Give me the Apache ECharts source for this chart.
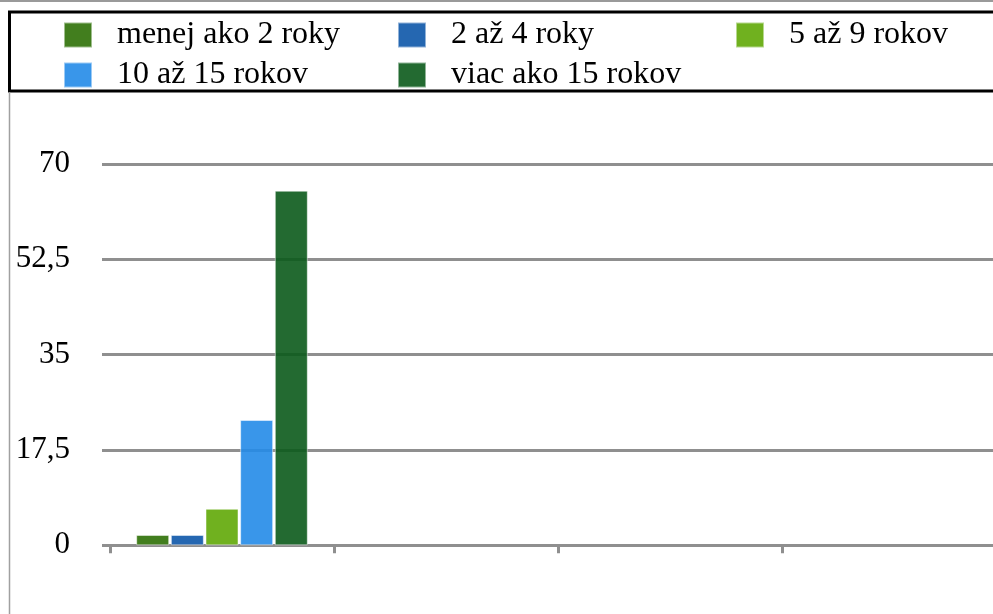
<!DOCTYPE html>
<html>
<head>
<meta charset="utf-8">
<script src="https://cdn.jsdelivr.net/npm/echarts@6/dist/echarts.min.js"></script>
<style>
html,body{margin:0;padding:0;background:#fff;overflow:hidden;width:993px;height:614px;}
#main{width:1010px;height:614px;}
</style>
</head>
<body>
<div id="main"></div>
<script>
const categories = ['', '', '', ''];
const seriesNames = ['menej ako 2 roky', '2 až 4 roky', '5 až 9 rokov', '10 až 15 rokov', 'viac ako 15 rokov'];
const lessThan2 = [1.9, null, null, null];
const from2to4 = [1.9, null, null, null];
const from5to9 = [6.7, null, null, null];
const from10to15 = [23, null, null, null];
const over15 = [65.1, null, null, null];
const yTicks = [0, 17.5, 35, 52.5, 70];

const seriesData = [lessThan2, from2to4, from5to9, from10to15, over15];
const colors = ['rgb(45,112,5)', 'rgb(13,87,169)', 'rgb(96,168,7)', 'rgb(36,139,232)', 'rgb(11,90,27)'];
const legendPos = [
  {left: 63, top: 19}, {left: 397, top: 19}, {left: 735, top: 19},
  {left: 63, top: 59}, {left: 397, top: 59}
];
const font = '"Liberation Serif", "Times New Roman", serif';
const gridGray = '#8f8f8f';

const chart = echarts.init(document.getElementById('main'), null, {renderer: 'canvas'});
const option = {
  animation: false,
  color: colors,
  legend: seriesNames.map((n, i) => ({
    data: [n],
    left: legendPos[i].left,
    top: legendPos[i].top,
    padding: 0,
    itemWidth: 28,
    itemHeight: 25,
    selectedMode: false,
    icon: 'rect',
    textStyle: {fontFamily: font, fontSize: 32, color: '#000', lineHeight: 25, padding: [0, 0, 0, 20]}
  })),
  grid: {left: 110, right: 4, top: 164, bottom: 68.7, containLabel: false},
  xAxis: {
    type: 'category',
    data: categories,
    axisLine: {lineStyle: {color: gridGray, width: 3}},
    axisTick: {show: true, length: 8, lineStyle: {color: gridGray, width: 3}},
    axisLabel: {show: false},
    splitLine: {show: false}
  },
  yAxis: {
    type: 'value',
    min: yTicks[0],
    max: yTicks[yTicks.length - 1],
    interval: yTicks[1] - yTicks[0],
    axisLine: {show: false},
    axisTick: {show: true, length: 8, lineStyle: {color: gridGray, width: 3}},
    axisLabel: {
      margin: 40,
      fontFamily: font, fontSize: 31, color: '#000',
      formatter: v => String(v).replace('.', ',')
    },
    splitLine: {lineStyle: {color: gridGray, width: 3}}
  },
  series: seriesNames.map((n, i) => ({
    name: n,
    type: 'bar',
    data: seriesData[i],
    barWidth: 33,
    barGap: '5%',
    itemStyle: {color: colors[i], opacity: 0.9, borderColor: 'rgba(255,255,255,0.55)', borderWidth: 1}
  })),
  graphic: [
    {type: 'line', shape: {x1: 0, y1: 1, x2: 993, y2: 1}, style: {stroke: '#9a9a9a', lineWidth: 2}},
    {type: 'rect', shape: {x: 9.5, y: 12, width: 1000, height: 79}, style: {fill: 'none', stroke: '#000', lineWidth: 3}},
    {type: 'line', shape: {x1: 9.5, y1: 92, x2: 9.5, y2: 614}, style: {stroke: '#a0a0a0', lineWidth: 1.5}}
  ]
};
chart.setOption(option);
</script>
</body>
</html>
